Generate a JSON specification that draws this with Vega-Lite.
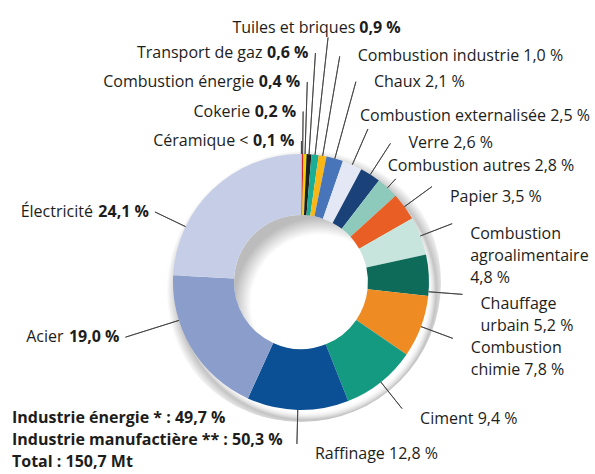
{
  "$schema": "https://vega.github.io/schema/vega-lite/v6.json",
  "width": 588,
  "height": 384,
  "autosize": {"type": "none"},
  "padding": {"left": 7, "top": 90, "right": 0, "bottom": 0},
  "background": "white",
  "title": {
    "text": ["Industrie énergie * : 49,7 %", "Industrie manufactière ** : 50,3 %", "Total : 150,7 Mt"],
    "orient": "bottom",
    "anchor": "start",
    "frame": "group",
    "baseline": "top",
    "offset": 0,
    "dy": -64,
    "dx": 5,
    "font": "Open Sans",
    "fontSize": 16,
    "fontWeight": "bold",
    "color": "#1d1d1b",
    "lineHeight": 22
  },
  "data": {
    "values": [
      {"secteur": "Céramique", "valeur": 0.1, "ordre": 1, "etiquette": "Céramique < 0,1 %", "nom": "Céramique <", "part": "0,1 %"},
      {"secteur": "Cokerie", "valeur": 0.2, "ordre": 2, "etiquette": "Cokerie 0,2 %", "nom": "Cokerie", "part": "0,2 %"},
      {"secteur": "Combustion énergie", "valeur": 0.4, "ordre": 3, "etiquette": "Combustion énergie 0,4 %", "nom": "Combustion énergie", "part": "0,4 %"},
      {"secteur": "Transport de gaz", "valeur": 0.6, "ordre": 4, "etiquette": "Transport de gaz 0,6 %", "nom": "Transport de gaz", "part": "0,6 %"},
      {"secteur": "Tuiles et briques", "valeur": 0.9, "ordre": 5, "etiquette": "Tuiles et briques 0,9 %", "nom": "Tuiles et briques", "part": "0,9 %"},
      {"secteur": "Combustion industrie", "valeur": 1.0, "ordre": 6, "etiquette": "Combustion industrie 1,0 %", "nom": "Combustion industrie", "part": "1,0 %"},
      {"secteur": "Chaux", "valeur": 2.1, "ordre": 7, "etiquette": "Chaux 2,1 %", "nom": "Chaux", "part": "2,1 %"},
      {"secteur": "Combustion externalisée", "valeur": 2.5, "ordre": 8, "etiquette": "Combustion externalisée 2,5 %", "nom": "Combustion externalisée", "part": "2,5 %"},
      {"secteur": "Verre", "valeur": 2.6, "ordre": 9, "etiquette": "Verre 2,6 %", "nom": "Verre", "part": "2,6 %"},
      {"secteur": "Combustion autres", "valeur": 2.8, "ordre": 10, "etiquette": "Combustion autres 2,8 %", "nom": "Combustion autres", "part": "2,8 %"},
      {"secteur": "Papier", "valeur": 3.5, "ordre": 11, "etiquette": "Papier 3,5 %", "nom": "Papier", "part": "3,5 %"},
      {"secteur": "Combustion agroalimentaire", "valeur": 4.8, "ordre": 12, "etiquette": "Combustion\nagroalimentaire\n4,8 %", "nom": "Combustion agroalimentaire", "part": "4,8 %"},
      {"secteur": "Chauffage urbain", "valeur": 5.2, "ordre": 13, "etiquette": "Chauffage\nurbain 5,2 %", "nom": "Chauffage urbain", "part": "5,2 %"},
      {"secteur": "Combustion chimie", "valeur": 7.8, "ordre": 14, "etiquette": "Combustion\nchimie 7,8 %", "nom": "Combustion chimie", "part": "7,8 %"},
      {"secteur": "Ciment", "valeur": 9.4, "ordre": 15, "etiquette": "Ciment 9,4 %", "nom": "Ciment", "part": "9,4 %"},
      {"secteur": "Raffinage", "valeur": 12.8, "ordre": 16, "etiquette": "Raffinage 12,8 %", "nom": "Raffinage", "part": "12,8 %"},
      {"secteur": "Acier", "valeur": 19.0, "ordre": 17, "etiquette": "Acier 19,0 %", "nom": "Acier", "part": "19,0 %"},
      {"secteur": "Électricité", "valeur": 24.1, "ordre": 18, "etiquette": "Électricité 24,1 %", "nom": "Électricité", "part": "24,1 %"}
    ]
  },
  "transform": [
    {"stack": "valeur", "groupby": [], "sort": [{"field": "ordre", "order": "ascending"}], "as": ["debut", "fin"]}
  ],
  "layer": [
    {
      "transform": [{"aggregate": [{"op": "sum", "field": "valeur", "as": "total"}]}],
      "mark": {
        "type": "arc", "theta": 0, "theta2": 6.2832, "radius": 140, "radius2": 0,
        "fill": {"gradient": "radial", "x1": 0.52, "y1": 0.53, "r1": 0, "x2": 0.52, "y2": 0.53, "r2": 0.5,
          "stops": [
            {"offset": 0, "color": "rgba(255,255,255,0)"},
            {"offset": 0.86, "color": "rgba(255,255,255,0)"},
            {"offset": 0.925, "color": "rgba(70,70,70,0.32)"},
            {"offset": 1, "color": "rgba(70,70,70,0)"}
          ]}
      },
      "encoding": {}
    },
    {
      "transform": [{"aggregate": [{"op": "sum", "field": "valeur", "as": "total"}]}],
      "mark": {
        "type": "arc", "theta": 0, "theta2": 6.2832, "radius": 67, "radius2": 0,
        "fill": {"gradient": "radial", "x1": 0.64, "y1": 0.66, "r1": 0, "x2": 0.64, "y2": 0.66, "r2": 0.64,
          "stops": [
            {"offset": 0, "color": "#ffffff"},
            {"offset": 0.8, "color": "#ffffff"},
            {"offset": 1, "color": "#bcbcbc"}
          ]}
      },
      "encoding": {}
    },
    {
      "mark": {"type": "arc", "radius": 128, "radius2": 67},
      "encoding": {
        "theta": {"field": "debut", "type": "quantitative", "stack": null, "scale": {"domain": [0, 99.8], "nice": false, "zero": true}},
        "theta2": {"field": "fin"},
        "color": {
          "field": "secteur", "type": "nominal", "legend": null,
          "scale": {
            "domain": ["Céramique", "Cokerie", "Combustion énergie", "Transport de gaz", "Tuiles et briques", "Combustion industrie", "Chaux", "Combustion externalisée", "Verre", "Combustion autres", "Papier", "Combustion agroalimentaire", "Chauffage urbain", "Combustion chimie", "Ciment", "Raffinage", "Acier", "Électricité"],
            "range": ["#dddddd", "#d51f26", "#f2d500", "#1f1f1f", "#1bae96", "#f9b617", "#4874ba", "#e4e8f4", "#1a4279", "#8dcabb", "#e85e24", "#c8e5dd", "#0f6b59", "#ee8b23", "#149a80", "#0b5094", "#8a9dcb", "#c6cee7"]
          }
        }
      }
    },
    {
      "transform": [{"filter": "datum.ordre <= 4"}],
      "mark": {"type": "arc", "radius2": 128, "padAngle": 3.1416, "filled": false, "stroke": "#3c3c3b", "strokeWidth": 0.8},
      "encoding": {
        "theta": {"field": "debut", "type": "quantitative", "stack": null, "scale": {"domain": [0, 99.8], "nice": false, "zero": true}},
        "theta2": {"field": "fin"},
        "radius": {"field": "ordre", "type": "quantitative", "scale": {"type": "linear", "domain": [1, 4], "range": [141, 229.5], "zero": false, "nice": false}}
      }
    },
    {
      "transform": [{"filter": "datum.ordre == 5"}],
      "mark": {"type": "arc", "radius": 246, "radius2": 128, "padAngle": 3.1416, "filled": false, "stroke": "#3c3c3b", "strokeWidth": 0.8},
      "encoding": {
        "theta": {"field": "debut", "type": "quantitative", "stack": null, "scale": {"domain": [0, 99.8], "nice": false, "zero": true}},
        "theta2": {"field": "fin"}
      }
    },
    {
      "transform": [{"filter": "datum.ordre == 6 || datum.ordre == 7 || datum.ordre == 9"}],
      "mark": {"type": "arc", "radius2": 128, "padAngle": 3.1416, "filled": false, "stroke": "#3c3c3b", "strokeWidth": 0.8},
      "encoding": {
        "theta": {"field": "debut", "type": "quantitative", "stack": null, "scale": {"domain": [0, 99.8], "nice": false, "zero": true}},
        "theta2": {"field": "fin"},
        "radius": {"field": "ordre", "type": "quantitative", "scale": {"type": "linear", "domain": [6, 9], "range": [229, 165], "zero": false, "nice": false}}
      }
    },
    {
      "transform": [{"filter": "datum.ordre == 8 || datum.ordre == 10"}],
      "mark": {"type": "arc", "radius2": 128, "padAngle": 3.1416, "filled": false, "stroke": "#3c3c3b", "strokeWidth": 0.8},
      "encoding": {
        "theta": {"field": "debut", "type": "quantitative", "stack": null, "scale": {"domain": [0, 99.8], "nice": false, "zero": true}},
        "theta2": {"field": "fin"},
        "radius": {"field": "ordre", "type": "quantitative", "scale": {"type": "linear", "domain": [8, 10], "range": [167, 140], "zero": false, "nice": false}}
      }
    },
    {
      "transform": [{"filter": "datum.ordre >= 11 && datum.ordre <= 16 && datum.ordre != 13"}],
      "mark": {"type": "arc", "radius": 162, "radius2": 128, "padAngle": 3.1416, "filled": false, "stroke": "#3c3c3b", "strokeWidth": 0.8},
      "encoding": {
        "theta": {"field": "debut", "type": "quantitative", "stack": null, "scale": {"domain": [0, 99.8], "nice": false, "zero": true}},
        "theta2": {"field": "fin"}
      }
    },
    {
      "transform": [{"filter": "datum.ordre == 13"}],
      "mark": {"type": "arc", "radius": 162, "radius2": 128, "padAngle": 3.1416, "thetaOffset": 0.13, "theta2Offset": 0.13, "filled": false, "stroke": "#3c3c3b", "strokeWidth": 0.8},
      "encoding": {
        "theta": {"field": "debut", "type": "quantitative", "stack": null, "scale": {"domain": [0, 99.8], "nice": false, "zero": true}},
        "theta2": {"field": "fin"}
      }
    },
    {
      "transform": [{"filter": "datum.ordre == 17"}],
      "mark": {"type": "arc", "radius": 184, "radius2": 128, "padAngle": 3.1416, "thetaOffset": 0.24, "theta2Offset": 0.24, "filled": false, "stroke": "#3c3c3b", "strokeWidth": 0.8},
      "encoding": {
        "theta": {"field": "debut", "type": "quantitative", "stack": null, "scale": {"domain": [0, 99.8], "nice": false, "zero": true}},
        "theta2": {"field": "fin"}
      }
    },
    {
      "transform": [{"filter": "datum.ordre == 18"}],
      "mark": {"type": "arc", "radius": 162, "radius2": 128, "padAngle": 3.1416, "thetaOffset": -0.365, "theta2Offset": -0.365, "filled": false, "stroke": "#3c3c3b", "strokeWidth": 0.8},
      "encoding": {
        "theta": {"field": "debut", "type": "quantitative", "stack": null, "scale": {"domain": [0, 99.8], "nice": false, "zero": true}},
        "theta2": {"field": "fin"}
      }
    },
    {
      "transform": [
        {"fold": ["debut", "fin"], "as": ["borne", "angle"]},
        {"aggregate": [{"op": "mean", "field": "angle", "as": "milieu"}], "groupby": ["secteur", "ordre", "etiquette", "nom", "part"]},
        {"filter": "datum.ordre <= 4"}
      ],
      "mark": {"type": "text", "align": "right", "baseline": "middle", "dx": -53},
      "encoding": {
        "theta": {"field": "milieu", "type": "quantitative", "stack": null, "scale": {"domain": [0, 99.8], "nice": false, "zero": true}},
        "radius": {"field": "ordre", "type": "quantitative", "scale": {"type": "linear", "domain": [1, 4], "range": [141, 229.5], "zero": false, "nice": false}},
        "text": {"field": "nom", "type": "nominal"}
      }
    },
    {
      "transform": [
        {"fold": ["debut", "fin"], "as": ["borne", "angle"]},
        {"aggregate": [{"op": "mean", "field": "angle", "as": "milieu"}], "groupby": ["secteur", "ordre", "etiquette", "nom", "part"]},
        {"filter": "datum.ordre <= 4"}
      ],
      "mark": {"type": "text", "align": "right", "baseline": "middle", "dx": -7, "fontWeight": "bold"},
      "encoding": {
        "theta": {"field": "milieu", "type": "quantitative", "stack": null, "scale": {"domain": [0, 99.8], "nice": false, "zero": true}},
        "radius": {"field": "ordre", "type": "quantitative", "scale": {"type": "linear", "domain": [1, 4], "range": [141, 229.5], "zero": false, "nice": false}},
        "text": {"field": "part", "type": "nominal"}
      }
    },
    {
      "transform": [
        {"fold": ["debut", "fin"], "as": ["borne", "angle"]},
        {"aggregate": [{"op": "mean", "field": "angle", "as": "milieu"}], "groupby": ["secteur", "ordre", "etiquette", "nom", "part"]},
        {"filter": "datum.ordre == 5"}
      ],
      "mark": {"type": "text", "align": "right", "baseline": "bottom", "radius": 248, "dx": 27},
      "encoding": {
        "theta": {"field": "milieu", "type": "quantitative", "stack": null, "scale": {"domain": [0, 99.8], "nice": false, "zero": true}},
        "text": {"field": "nom", "type": "nominal"}
      }
    },
    {
      "transform": [
        {"fold": ["debut", "fin"], "as": ["borne", "angle"]},
        {"aggregate": [{"op": "mean", "field": "angle", "as": "milieu"}], "groupby": ["secteur", "ordre", "etiquette", "nom", "part"]},
        {"filter": "datum.ordre == 5"}
      ],
      "mark": {"type": "text", "align": "left", "baseline": "bottom", "radius": 248, "dx": 31, "fontWeight": "bold"},
      "encoding": {
        "theta": {"field": "milieu", "type": "quantitative", "stack": null, "scale": {"domain": [0, 99.8], "nice": false, "zero": true}},
        "text": {"field": "part", "type": "nominal"}
      }
    },
    {
      "transform": [
        {"fold": ["debut", "fin"], "as": ["borne", "angle"]},
        {"aggregate": [{"op": "mean", "field": "angle", "as": "milieu"}], "groupby": ["secteur", "ordre", "etiquette", "nom", "part"]},
        {"filter": "datum.ordre == 6 || datum.ordre == 7 || datum.ordre == 9"}
      ],
      "mark": {"type": "text", "align": "left", "baseline": "middle", "dx": 18},
      "encoding": {
        "theta": {"field": "milieu", "type": "quantitative", "stack": null, "scale": {"domain": [0, 99.8], "nice": false, "zero": true}},
        "radius": {"field": "ordre", "type": "quantitative", "scale": {"type": "linear", "domain": [6, 9], "range": [229, 165], "zero": false, "nice": false}},
        "text": {"field": "etiquette", "type": "nominal"}
      }
    },
    {
      "transform": [
        {"fold": ["debut", "fin"], "as": ["borne", "angle"]},
        {"aggregate": [{"op": "mean", "field": "angle", "as": "milieu"}], "groupby": ["secteur", "ordre", "etiquette", "nom", "part"]},
        {"filter": "datum.ordre == 8 || datum.ordre == 10"}
      ],
      "mark": {"type": "text", "align": "left", "baseline": "middle", "dx": -8, "dy": -13},
      "encoding": {
        "theta": {"field": "milieu", "type": "quantitative", "stack": null, "scale": {"domain": [0, 99.8], "nice": false, "zero": true}},
        "radius": {"field": "ordre", "type": "quantitative", "scale": {"type": "linear", "domain": [8, 10], "range": [167, 140], "zero": false, "nice": false}},
        "text": {"field": "etiquette", "type": "nominal"}
      }
    },
    {
      "transform": [
        {"fold": ["debut", "fin"], "as": ["borne", "angle"]},
        {"aggregate": [{"op": "mean", "field": "angle", "as": "milieu"}], "groupby": ["secteur", "ordre", "etiquette", "nom", "part"]},
        {"filter": "datum.ordre >= 11 && datum.ordre <= 16 && datum.ordre != 13"}
      ],
      "mark": {"type": "text", "align": "left", "baseline": "middle", "radius": 162, "dx": 18, "dy": 10, "lineBreak": "\n", "lineHeight": 22},
      "encoding": {
        "theta": {"field": "milieu", "type": "quantitative", "stack": null, "scale": {"domain": [0, 99.8], "nice": false, "zero": true}},
        "text": {"field": "etiquette", "type": "nominal"}
      }
    },
    {
      "transform": [
        {"fold": ["debut", "fin"], "as": ["borne", "angle"]},
        {"aggregate": [{"op": "mean", "field": "angle", "as": "milieu"}], "groupby": ["secteur", "ordre", "etiquette", "nom", "part"]},
        {"filter": "datum.ordre == 13"}
      ],
      "mark": {"type": "text", "align": "left", "baseline": "middle", "radius": 162, "thetaOffset": 0.13, "dx": 18, "dy": 10, "lineBreak": "\n", "lineHeight": 22},
      "encoding": {
        "theta": {"field": "milieu", "type": "quantitative", "stack": null, "scale": {"domain": [0, 99.8], "nice": false, "zero": true}},
        "text": {"field": "etiquette", "type": "nominal"}
      }
    },
    {
      "transform": [
        {"fold": ["debut", "fin"], "as": ["borne", "angle"]},
        {"aggregate": [{"op": "mean", "field": "angle", "as": "milieu"}], "groupby": ["secteur", "ordre", "etiquette", "nom", "part"]},
        {"filter": "datum.ordre == 17"}
      ],
      "mark": {"type": "text", "align": "right", "baseline": "middle", "radius": 184, "thetaOffset": 0.24, "dx": -62},
      "encoding": {
        "theta": {"field": "milieu", "type": "quantitative", "stack": null, "scale": {"domain": [0, 99.8], "nice": false, "zero": true}},
        "text": {"field": "nom", "type": "nominal"}
      }
    },
    {
      "transform": [
        {"fold": ["debut", "fin"], "as": ["borne", "angle"]},
        {"aggregate": [{"op": "mean", "field": "angle", "as": "milieu"}], "groupby": ["secteur", "ordre", "etiquette", "nom", "part"]},
        {"filter": "datum.ordre == 17"}
      ],
      "mark": {"type": "text", "align": "right", "baseline": "middle", "radius": 184, "thetaOffset": 0.24, "dx": -6, "fontWeight": "bold"},
      "encoding": {
        "theta": {"field": "milieu", "type": "quantitative", "stack": null, "scale": {"domain": [0, 99.8], "nice": false, "zero": true}},
        "text": {"field": "part", "type": "nominal"}
      }
    },
    {
      "transform": [
        {"fold": ["debut", "fin"], "as": ["borne", "angle"]},
        {"aggregate": [{"op": "mean", "field": "angle", "as": "milieu"}], "groupby": ["secteur", "ordre", "etiquette", "nom", "part"]},
        {"filter": "datum.ordre == 18"}
      ],
      "mark": {"type": "text", "align": "right", "baseline": "middle", "radius": 162, "thetaOffset": -0.365, "dx": -62},
      "encoding": {
        "theta": {"field": "milieu", "type": "quantitative", "stack": null, "scale": {"domain": [0, 99.8], "nice": false, "zero": true}},
        "text": {"field": "nom", "type": "nominal"}
      }
    },
    {
      "transform": [
        {"fold": ["debut", "fin"], "as": ["borne", "angle"]},
        {"aggregate": [{"op": "mean", "field": "angle", "as": "milieu"}], "groupby": ["secteur", "ordre", "etiquette", "nom", "part"]},
        {"filter": "datum.ordre == 18"}
      ],
      "mark": {"type": "text", "align": "right", "baseline": "middle", "radius": 162, "thetaOffset": -0.365, "dx": -6, "fontWeight": "bold"},
      "encoding": {
        "theta": {"field": "milieu", "type": "quantitative", "stack": null, "scale": {"domain": [0, 99.8], "nice": false, "zero": true}},
        "text": {"field": "part", "type": "nominal"}
      }
    }
  ],
  "resolve": {"scale": {"radius": "independent"}},
  "config": {
    "view": {"stroke": null},
    "text": {"font": "Open Sans", "fontSize": 16, "color": "#1d1d1b"}
  }
}
